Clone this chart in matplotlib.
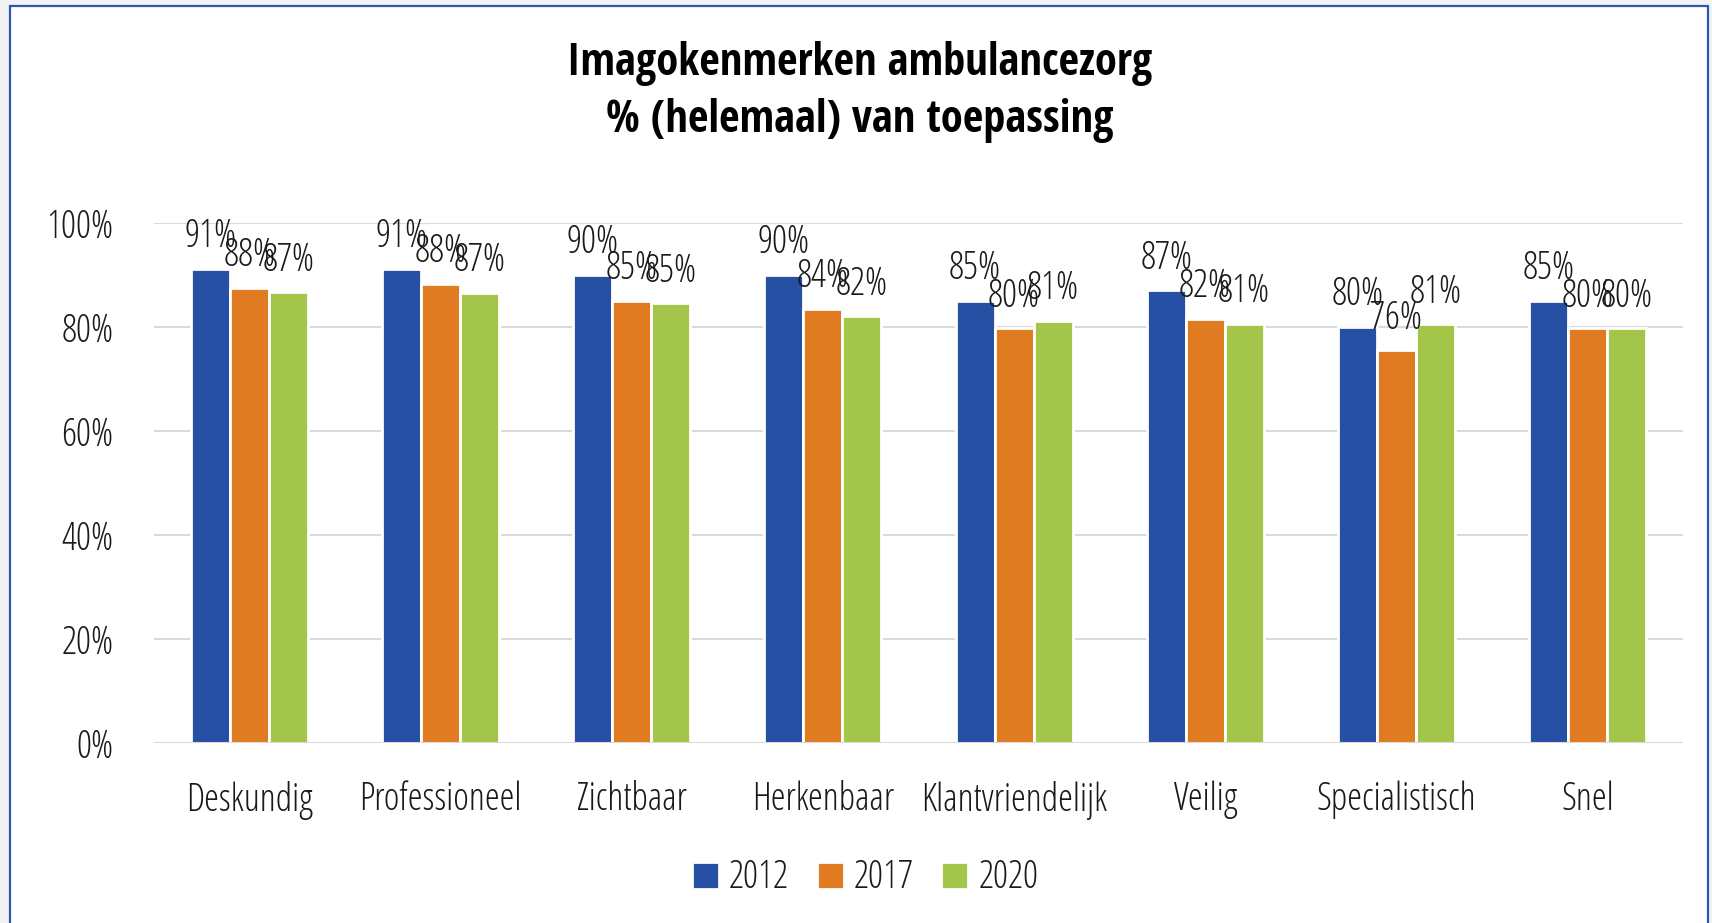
import matplotlib
matplotlib.use("Agg")
import matplotlib.pyplot as plt
import matplotlib.font_manager as fm
from matplotlib.patches import Rectangle
import numpy as np

categories = ["Deskundig", "Professioneel", "Zichtbaar", "Herkenbaar",
              "Klantvriendelijk", "Veilig", "Specialistisch", "Snel"]
years = ["2012", "2017", "2020"]
v2012 = [91.2, 91.2, 90.1, 90.1, 85.1, 87.1, 80.1, 85.1]
v2017 = [87.6, 88.4, 85.1, 83.6, 79.8, 81.6, 75.6, 79.8]
v2020 = [86.7, 86.6, 84.6, 82.1, 81.2, 80.7, 80.6, 79.8]
yticks = [0, 20, 40, 60, 80, 100]
title_lines = ["Imagokenmerken ambulancezorg", "% (helemaal) van toepassing"]
colors = ["#2550A3", "#E07B21", "#A3C54A"]

# fonts: light condensed for labels, bold condensed for the title
all_fonts = fm.fontManager.ttflist
names = {f.name for f in all_fonts}


def find_font(name, stretch, weight):
    for f in all_fonts:
        if (f.name == name and str(f.stretch) == stretch and str(f.weight) == str(weight)
                and f.style == "normal"):
            return f.fname
    return None


def props(size, kind):
    if kind == "light":
        p = find_font("Open Sans", "condensed", 300)
    else:
        p = find_font("Open Sans", "condensed", 700)
    if p:
        return fm.FontProperties(fname=p, size=size)
    fam = "Open Sans Condensed" if "Open Sans Condensed" in names else "DejaVu Sans"
    return fm.FontProperties(family=fam, size=size,
                             weight="light" if kind == "light" else "bold")


bold_fam = "Open Sans Condensed" if "Open Sans Condensed" in names else "DejaVu Sans"
plt.rcParams['font.family'] = [bold_fam, 'DejaVu Sans']

lab_fp = props(27, "light")
W, H = 1712, 923
fig = plt.figure(figsize=(W / 100, H / 100), dpi=100, facecolor="#f3f3f3")
fig.patches.append(Rectangle((10 / W, -0.02), (1708 - 10) / W, 1.02 - 6 / H,
                             transform=fig.transFigure, facecolor="white",
                             edgecolor="#2f55b5", linewidth=1.6, zorder=-10))

ax = fig.add_axes([154 / W, 1 - 743.3 / H, (1683 - 154) / W, (743.3 - 223.3) / H])
ax.set_facecolor("none")
x = np.arange(len(categories))
step = 0.204
series = [v2012, v2017, v2020]
for j, (vals, c, lab) in enumerate(zip(series, colors, years)):
    ax.bar(x + (j - 1) * step, vals, width=step, color=c, edgecolor="white",
           linewidth=2.0, label=lab, zorder=2)
    for xi, v in zip(x + (j - 1) * step, vals):
        ax.annotate(f"{v:.0f}%", (xi, v), xytext=(0, 15.6), textcoords="offset points",
                    ha="center", va="baseline", fontproperties=lab_fp, color="#1a1a1a",
                    zorder=4)

ax.set_xlim(-0.5, len(categories) - 0.5)
ax.set_ylim(0, 100)
ax.set_yticks(yticks)
ax.set_yticklabels([f"{t}%" for t in yticks], fontproperties=lab_fp)
for t in yticks:
    ax.axhline(t, color="#d9d9d9", linewidth=1.5, zorder=1 if t else 3)
for s in ax.spines.values():
    s.set_visible(False)
ax.tick_params(axis="both", length=0, colors="#1a1a1a")
ax.tick_params(axis="y", pad=29)
ax.tick_params(axis="x", pad=27)
ax.set_xticks(x)
ax.set_xticklabels(categories, fontproperties=lab_fp)

title_fp = props(32, "bold")
fig.text(860 / W, 1 - 75 / H, title_lines[0], ha="center", va="baseline",
         fontproperties=title_fp, color="black")
fig.text(860 / W, 1 - 131.7 / H, title_lines[1], ha="center", va="baseline",
         fontproperties=title_fp, color="black")

leg = fig.legend(loc="center", bbox_to_anchor=(865 / W, 1 - 878 / H), ncol=3,
                 frameon=False, prop=lab_fp, handlelength=0.72, handleheight=0.72,
                 columnspacing=0.75, handletextpad=0.26)
for t in leg.get_texts():
    t.set_color("#1a1a1a")

fig.savefig("out.png", dpi=100, facecolor=fig.get_facecolor())
